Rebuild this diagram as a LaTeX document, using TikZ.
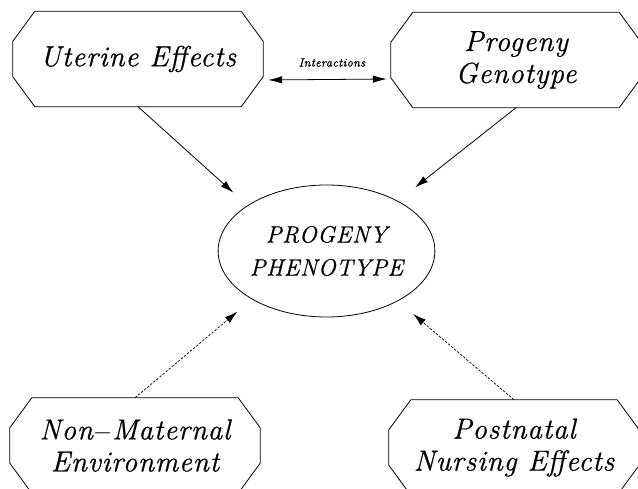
\documentclass[tikz,border=0pt]{standalone}
\usepackage{fontspec}
\setmainfont{Latin Modern Roman}
\newfontfamily\boxfont{Latin Modern Roman}[FakeBold=0.7, LetterSpace=3]
\newfontfamily\lblfont{Latin Modern Roman}[FakeBold=1.6, LetterSpace=4]
\usetikzlibrary{shapes.geometric,arrows.meta}
\newcommand\drawocto[1]{\draw[boxline] ([xshift=22pt]#1.north west) -- ([xshift=-22pt]#1.north east) -- ([yshift=-30pt]#1.north east) -- ([yshift=30pt]#1.south east) -- ([xshift=-22pt]#1.south east) -- ([xshift=22pt]#1.south west) -- ([yshift=30pt]#1.south west) -- ([yshift=-30pt]#1.north west) -- cycle;}
\begin{document}
\begin{tikzpicture}[x=1pt,y=-1pt,
  boxline/.style={line width=0.8pt, line join=miter},
  box/.style={rectangle, minimum width=250pt, minimum height=95pt, inner sep=0pt, align=center, font=\boxfont\fontsize{29}{32}\selectfont\itshape},
  ell/.style={ellipse, draw, line width=0.8pt, minimum width=211pt, minimum height=132pt, inner sep=0pt, align=center, font=\boxfont\fontsize{23.5}{33}\selectfont\itshape},
  arr/.style={line width=0.8pt, -{Latex[length=13pt,width=7.5pt]}},
  darr/.style={line width=0.7pt, dash pattern=on 2.5pt off 1.5pt, -{Latex[length=13pt,width=7.5pt]}},
  lbl/.style={font=\lblfont\fontsize{12}{14}\selectfont\itshape, inner sep=0pt}]
\useasboundingbox (0,0) rectangle (638,489);
\clip (0,0) rectangle (638,489);
\node[box] (ue) at (138,59) {Uterine Effects};
\node[box] (pg) at (516,60) {Progeny\\Genotype};
\node[box] (nm) at (135,445.5) {Non$-$Maternal\\Environment};
\node[box] (pn) at (514,447.5) {Postnatal\\Nursing Effects};
\node[ell] (pp) at (326.5,251) {PROGENY\\PHENOTYPE};
\drawocto{ue}
\drawocto{pg}
\drawocto{nm}
\drawocto{pn}
\draw[arr, shorten >=19pt] (ue.south) -- (pp.150);
\draw[arr, shorten >=22pt] (pg.south) -- (pp.35);
\draw[darr, shorten >=19pt] (nm.north) -- (pp.213);
\draw[darr, shorten >=20pt] (pn.north) -- (pp.325);
\draw[arr, {Latex[length=14pt,width=7.5pt]}-{Latex[length=14pt,width=7.5pt]}, shorten <=5pt, shorten >=4pt] ([yshift=-21pt]ue.east) -- node[lbl, midway, yshift=17pt, xshift=5pt] {Interactions} ([yshift=-19pt]pg.west);
\end{tikzpicture}
\end{document}
